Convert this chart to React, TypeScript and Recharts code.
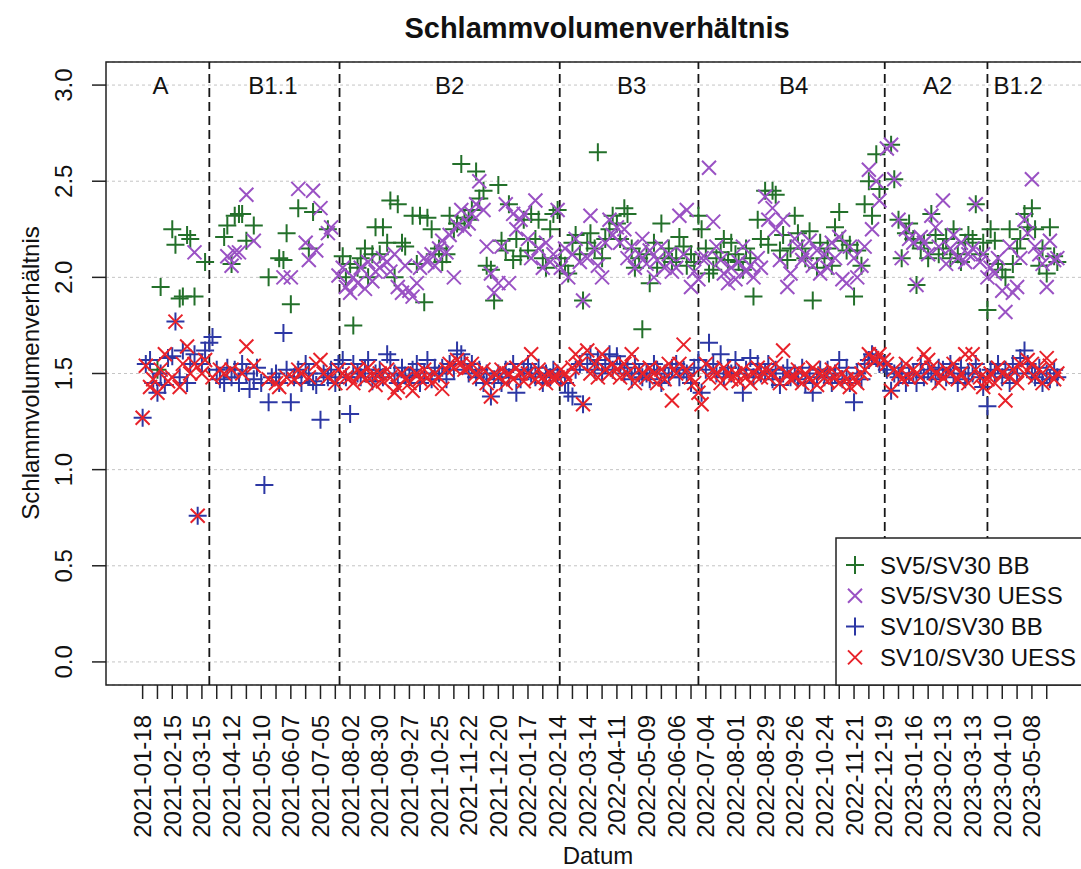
import React from 'react';
import {
  ScatterChart,
  Scatter,
  XAxis,
  YAxis,
  CartesianGrid,
  ReferenceLine,
  ReferenceArea,
} from 'recharts';

const FONT = '"Liberation Sans", Arial, Helvetica, sans-serif';
const START = Date.UTC(2021, 0, 18);

const GREEN = '#23702a';
const PURPLE = '#9a52c4';
const BLUE = '#2c37a4';
const RED = '#e8222a';

// labelled x ticks (every 4 weeks), minor ticks sit 2 weeks after each
const LABEL_DATES = [
  '2021-01-18', '2021-02-15', '2021-03-15', '2021-04-12', '2021-05-10', '2021-06-07',
  '2021-07-05', '2021-08-02', '2021-08-30', '2021-09-27', '2021-10-25', '2021-11-22',
  '2021-12-20', '2022-01-17', '2022-02-14', '2022-03-14', '2022-04-11', '2022-05-09',
  '2022-06-06', '2022-07-04', '2022-08-01', '2022-08-29', '2022-09-26', '2022-10-24',
  '2022-11-21', '2022-12-19', '2023-01-16', '2023-02-13', '2023-03-13', '2023-04-10',
  '2023-05-08',
];

const Y_TICKS = [0, 0.5, 1, 1.5, 2, 2.5, 3];

// phases: boundaries and label positions in days since 2021-01-18
const PHASE_NAMES = ['A', 'B1.1', 'B2', 'B3', 'B4', 'A2', 'B1.2'];
const PHASE_LABEL_DAYS = [17, 123, 290, 462, 615, 751, 827];
const PHASE_BOUNDS = [63, 186, 394, 525, 701, 798];

// sampling days (Mon/Thu), one row per 4-week block
const SAMPLE_DAYS = [
  [0, 3, 7, 10, 14, 17, 21, 24],
  [28, 31, 35, 38, 42, 45, 49, 52],
  [56, 59, 63, 66, 70, 73, 77, 80],
  [84, 87, 91, 94, 98, 101, 105, 108],
  [112, 115, 119, 122, 126, 129, 133, 136],
  [140, 143, 147, 150, 154, 157, 161, 164],
  [168, 171, 175, 178, 182, 185, 189, 192],
  [196, 199, 203, 206, 210, 213, 217, 220],
  [224, 227, 231, 234, 238, 241, 245, 248],
  [252, 255, 259, 262, 266, 269, 273, 276],
  [280, 283, 287, 290, 294, 297, 301, 304],
  [308, 311, 315, 318, 322, 325, 329, 332],
  [336, 339, 343, 346, 350, 353, 357, 360],
  [364, 367, 371, 374, 378, 381, 385, 388],
  [392, 395, 399, 402, 406, 409, 413, 416],
  [420, 423, 427, 430, 434, 437, 441, 444],
  [448, 451, 455, 458, 462, 465, 469, 472],
  [476, 479, 483, 486, 490, 493, 497, 500],
  [504, 507, 511, 514, 518, 521, 525, 528],
  [532, 535, 539, 542, 546, 549, 553, 556],
  [560, 563, 567, 570, 574, 577, 581, 584],
  [588, 591, 595, 598, 602, 605, 609, 612],
  [616, 619, 623, 626, 630, 633, 637, 640],
  [644, 647, 651, 654, 658, 661, 665, 668],
  [672, 675, 679, 682, 686, 689, 693, 696],
  [700, 703, 707, 710, 714, 717, 721, 724],
  [728, 731, 735, 738, 742, 745, 749, 752],
  [756, 759, 763, 766, 770, 773, 777, 780],
  [784, 787, 791, 794, 798, 801, 805, 808],
  [812, 815, 819, 822, 826, 829, 833, 836],
  [840, 843, 847, 850, 854, 857, 861, 864],
];

const SV5_BB = [
  [null, null, null, null, 1.52, 1.95, null, null],
  [2.25, 2.17, 1.89, 1.90, 2.22, 2.20, 1.90, null],
  [null, 2.08, null, null, null, null, 2.21, 2.27],
  [2.07, 2.32, 2.33, 2.33, 2.19, null, 2.27, null],
  [null, null, 2.00, null, null, 2.10, 2.09, 2.23],
  [1.86, null, 2.36, null, null, 2.15, 2.34, null],
  [null, null, 2.25, null, null, null, 2.11, 2.00],
  [2.07, 1.75, 2.05, 2.10, 2.15, 2.00, 2.12, 2.26],
  [2.12, 2.26, 2.18, 2.40, 2.00, 2.38, 2.18, 2.16],
  [null, 2.32, 2.07, 2.32, 1.87, 2.31, 2.25, 2.12],
  [2.15, 2.08, 2.12, 2.32, 2.25, 2.28, 2.59, 2.31],
  [2.30, 2.35, 2.55, 2.41, 2.45, 2.06, 2.04, 1.88],
  [2.48, 2.19, 2.14, 2.38, 2.09, 2.20, 2.11, 2.30],
  [2.14, 2.33, 2.20, 2.30, 2.10, 2.05, 2.25, 2.33],
  [2.35, 2.10, 2.06, 2.02, 2.18, 2.22, 2.12, 1.88],
  [2.18, 2.23, 2.15, 2.65, 2.10, 2.20, 2.25, 2.32],
  [2.28, 2.20, 2.36, 2.33, 2.15, 2.05, 2.10, 1.73],
  [2.12, 1.97, 2.18, 2.05, 2.28, 2.10, 2.15, 2.08],
  [2.10, 2.21, 2.16, 2.06, 2.12, 2.08, 2.32, 2.25],
  [2.15, 2.02, 2.04, 2.10, 2.13, 2.20, 2.09, 2.18],
  [2.12, 2.08, 2.04, 2.15, 2.10, 1.90, 2.30, 2.20],
  [2.45, 2.17, 2.45, 2.43, 2.14, 2.22, 2.09, 2.15],
  [2.32, 2.23, 2.15, 2.10, 2.24, 1.88, 2.05, 2.18],
  [2.10, 2.15, 2.06, 2.26, 2.34, 2.19, 2.14, 2.17],
  [1.90, 2.14, 2.06, 2.38, 2.50, 2.32, 2.64, 2.46],
  [null, null, 2.69, 2.51, 2.30, 2.10, 2.23, 2.28],
  [2.20, 1.96, 2.15, 2.18, 2.10, 2.33, 2.22, 2.12],
  [2.15, 2.20, 2.10, 2.25, 2.12, 2.08, 2.18, 2.22],
  [2.20, 2.38, 2.12, 2.18, 1.83, 2.25, 2.19, 2.07],
  [2.04, 2.00, 2.25, 2.07, 2.15, 2.20, 2.33, 2.26],
  [2.36, 2.25, 2.06, 2.15, 2.02, 2.26, 2.11, 2.08],
];

const SV5_UESS = [
  [null, null, null, null, null, null, null, null],
  [null, null, null, null, null, null, 2.13, null],
  [null, null, null, null, null, null, null, 2.11],
  [2.06, 2.13, 2.13, null, 2.43, null, 2.19, null],
  [null, null, null, null, null, null, 2.00, null],
  [2.00, null, 2.46, null, 2.18, 2.09, 2.45, 2.14],
  [2.36, null, 2.23, 2.26, null, 2.01, 2.05, 1.95],
  [1.92, 2.00, 1.97, 2.05, 1.94, 2.08, 1.98, 2.03],
  [2.05, 2.10, 2.08, 2.03, 2.12, 1.95, 1.92, 2.06],
  [1.93, 1.90, 1.97, 2.05, 2.10, 2.08, 2.12, 2.06],
  [2.15, 2.19, 2.13, 2.22, 2.00, 2.27, 2.35, 2.25],
  [2.28, 2.33, 2.38, 2.50, 2.35, 2.16, 2.02, 1.92],
  [1.97, 2.16, 2.38, 1.97, 2.33, 2.25, 2.30, 2.33],
  [2.20, 2.10, 2.40, 2.15, 2.05, 2.18, 2.08, 2.12],
  [2.35, 2.05, 2.15, 2.00, 2.12, 2.20, 2.08, 1.88],
  [2.10, 2.32, 2.15, 2.06, 2.00, 2.18, 2.30, 2.22],
  [2.26, 2.18, 2.25, 2.10, 2.16, 2.05, 2.12, 2.20],
  [2.07, 2.14, 2.00, 2.09, 2.16, 2.05, 2.12, 2.03],
  [2.05, 2.32, 2.12, 2.35, 1.95, 2.03, 1.99, 2.10],
  [2.10, 2.57, 2.29, 2.16, 2.09, 2.02, 1.97, 2.05],
  [1.99, 2.08, 2.16, 2.03, 2.06, 2.00, 2.10, 2.05],
  [2.42, 2.30, 2.36, 2.25, 2.09, 2.30, 1.95, 2.02],
  [2.20, 2.16, 2.09, 2.12, 2.19, 2.06, 2.14, 2.02],
  [2.12, 2.05, 2.18, 2.10, 2.21, 1.99, 1.97, 2.16],
  [2.10, 2.00, 2.06, 2.16, 2.56, 2.25, 2.50, 2.40],
  [null, 2.67, 2.69, 2.51, 2.30, 2.10, 2.25, 2.20],
  [2.18, 1.96, 2.21, 2.18, 2.12, 2.32, 2.26, 2.16],
  [2.40, 2.07, 2.15, 2.22, 2.10, 2.18, 2.08, 2.12],
  [2.15, 2.38, 2.08, 2.12, 2.00, 2.05, 2.02, 2.10],
  [1.93, 1.82, 2.16, 1.92, 1.95, 2.10, 2.30, 2.23],
  [2.51, 2.16, 2.12, 2.07, 1.95, 2.19, 2.09, 2.10],
];

const SV10_BB = [
  [1.27, 1.55, 1.57, 1.45, 1.40, 1.50, 1.44, 1.58],
  [1.59, 1.77, 1.48, 1.62, 1.45, 1.55, 1.60, 0.76],
  [1.55, 1.62, 1.66, 1.69, 1.52, 1.47, 1.45, 1.53],
  [1.48, 1.52, 1.45, 1.55, 1.50, 1.42, 1.47, 1.53],
  [1.45, 0.92, 1.35, 1.48, 1.50, 1.45, 1.71, 1.52],
  [1.35, 1.48, 1.52, 1.45, 1.55, 1.50, 1.46, 1.44],
  [1.26, 1.50, 1.48, 1.52, 1.45, 1.55, 1.57, 1.48],
  [1.29, 1.55, 1.50, 1.48, 1.52, 1.57, 1.46, 1.50],
  [1.52, 1.48, 1.60, 1.57, 1.50, 1.45, 1.53, 1.49],
  [1.48, 1.52, 1.55, 1.45, 1.50, 1.57, 1.47, 1.53],
  [1.50, 1.53, 1.47, 1.55, 1.52, 1.62, 1.60, 1.55],
  [1.50, 1.55, 1.48, 1.52, 1.45, 1.50, 1.38, 1.47],
  [1.50, 1.45, 1.52, 1.48, 1.55, 1.40, 1.47, 1.52],
  [1.55, 1.50, 1.48, 1.53, 1.45, 1.50, 1.48, 1.52],
  [1.50, 1.48, 1.45, 1.40, 1.38, 1.52, 1.55, 1.34],
  [1.55, 1.60, 1.52, 1.57, 1.50, 1.55, 1.60, 1.52],
  [1.59, 1.55, 1.50, 1.53, 1.47, 1.55, 1.50, 1.48],
  [1.50, 1.47, 1.55, 1.52, 1.45, 1.50, 1.48, 1.53],
  [1.55, 1.48, 1.52, 1.50, 1.45, 1.53, 1.57, 1.40],
  [1.52, 1.66, 1.55, 1.50, 1.60, 1.48, 1.53, 1.50],
  [1.57, 1.50, 1.40, 1.52, 1.58, 1.48, 1.55, 1.50],
  [1.50, 1.55, 1.47, 1.52, 1.44, 1.50, 1.53, 1.48],
  [1.50, 1.47, 1.53, 1.45, 1.50, 1.40, 1.48, 1.52],
  [1.48, 1.52, 1.45, 1.50, 1.57, 1.47, 1.53, 1.45],
  [1.35, 1.50, 1.47, 1.55, 1.57, 1.60, 1.58, 1.55],
  [1.55, 1.52, 1.41, 1.50, 1.48, 1.53, 1.45, 1.50],
  [1.50, 1.45, 1.55, 1.48, 1.52, 1.50, 1.47, 1.53],
  [1.52, 1.48, 1.55, 1.50, 1.45, 1.53, 1.47, 1.50],
  [1.50, 1.55, 1.48, 1.43, 1.33, 1.52, 1.50, 1.55],
  [1.48, 1.52, 1.45, 1.55, 1.50, 1.58, 1.62, 1.55],
  [1.50, 1.48, 1.53, 1.45, 1.50, 1.47, 1.52, 1.48],
];

const SV10_UESS = [
  [1.27, 1.54, 1.43, 1.47, 1.40, 1.52, 1.60, 1.46],
  [1.48, 1.77, 1.43, 1.55, 1.64, 1.50, 1.55, 0.76],
  [1.50, 1.57, null, 1.48, null, 1.52, 1.50, null],
  [1.52, null, null, 1.50, 1.64, null, 1.54, null],
  [null, null, 1.47, null, 1.45, 1.43, null, 1.48],
  [null, 1.47, 1.52, 1.50, null, 1.48, null, 1.55],
  [1.57, 1.50, 1.48, null, 1.45, 1.52, 1.50, 1.48],
  [1.48, 1.45, 1.52, 1.50, 1.47, 1.53, 1.49, 1.44],
  [1.50, 1.46, 1.52, 1.48, 1.40, 1.43, 1.50, 1.47],
  [1.45, 1.41, 1.50, 1.47, 1.52, 1.48, 1.45, 1.50],
  [1.48, 1.42, 1.52, 1.55, 1.53, 1.57, 1.55, 1.52],
  [1.53, 1.55, 1.50, 1.48, 1.52, 1.45, 1.38, 1.50],
  [1.48, 1.52, 1.45, 1.50, 1.47, 1.53, 1.50, 1.46],
  [1.50, 1.60, 1.47, 1.52, 1.48, 1.45, 1.50, 1.47],
  [1.48, 1.52, 1.50, 1.47, 1.53, 1.60, 1.55, 1.34],
  [1.62, 1.50, 1.55, 1.48, 1.60, 1.52, 1.50, 1.55],
  [1.52, 1.48, 1.55, 1.50, 1.60, 1.45, 1.52, 1.50],
  [1.48, 1.53, 1.50, 1.45, 1.52, 1.47, 1.55, 1.36],
  [1.50, 1.55, 1.65, 1.52, 1.48, 1.45, 1.40, 1.34],
  [1.55, 1.48, 1.52, 1.50, 1.45, 1.53, 1.50, 1.47],
  [1.50, 1.46, 1.52, 1.48, 1.45, 1.50, 1.53, 1.48],
  [1.52, 1.48, 1.50, 1.55, 1.45, 1.62, 1.50, 1.47],
  [1.48, 1.52, 1.45, 1.50, 1.47, 1.53, 1.44, 1.50],
  [1.50, 1.46, 1.52, 1.48, 1.45, 1.50, 1.47, 1.43],
  [1.48, 1.45, 1.50, 1.52, 1.60, 1.58, 1.57, 1.60],
  [1.57, 1.55, 1.41, 1.52, 1.50, 1.47, 1.55, 1.48],
  [1.52, 1.50, 1.48, 1.60, 1.57, 1.53, 1.50, 1.45],
  [1.48, 1.52, 1.50, 1.55, 1.47, 1.50, 1.60, 1.45],
  [1.60, 1.52, 1.48, 1.43, 1.47, 1.50, 1.45, 1.53],
  [1.50, 1.36, 1.48, 1.52, 1.45, 1.55, 1.50, 1.57],
  [1.55, 1.48, 1.52, 1.45, 1.58, 1.54, 1.47, 1.50],
];

const dayOf = (s: string) => {
  const [y, m, d] = s.split('-').map(Number);
  return Math.round((Date.UTC(y, m - 1, d) - START) / 86400000);
};

const LABEL_DAYS = LABEL_DATES.map(dayOf);
const TICK_DAYS = LABEL_DAYS.flatMap((d) => [d, d + 14]);

const toPoints = (rows: (number | null)[][]) =>
  rows.flatMap((row, k) =>
    row
      .map((v, i) => (v == null ? null : { x: SAMPLE_DAYS[k][i], y: v }))
      .filter((p): p is { x: number; y: number } => p !== null)
  );

const SERIES = [
  { name: 'SV5/SV30 BB', color: GREEN, mark: 'plus', rows: SV5_BB },
  { name: 'SV5/SV30 UESS', color: PURPLE, mark: 'cross', rows: SV5_UESS },
  { name: 'SV10/SV30 BB', color: BLUE, mark: 'plus', rows: SV10_BB },
  { name: 'SV10/SV30 UESS', color: RED, mark: 'cross', rows: SV10_UESS },
];

const PHASE_DATA = PHASE_NAMES.map((name, i) => ({ x: PHASE_LABEL_DAYS[i], y: 3, name }));

const Mark = ({ cx, cy, color, mark }: any) => {
  if (cx == null || cy == null) return null;
  const d =
    mark === 'plus'
      ? `M${cx - 9},${cy}H${cx + 9}M${cx},${cy - 9}V${cy + 9}`
      : `M${cx - 7},${cy - 7}L${cx + 7},${cy + 7}M${cx - 7},${cy + 7}L${cx + 7},${cy - 7}`;
  return <path d={d} stroke={color} strokeWidth={2} fill="none" />;
};

const XTick = ({ x, y, payload }: any) => {
  const idx = LABEL_DAYS.indexOf(payload.value);
  if (idx < 0) return <g />;
  const bx = x + 8.5;
  return (
    <text
      x={bx}
      y={y}
      transform={`rotate(-90 ${bx} ${y})`}
      textAnchor="end"
      fontSize={24}
      fontFamily={FONT}
      fill="#111"
    >
      {LABEL_DATES[idx]}
    </text>
  );
};

const YTick = ({ x, y, payload }: any) => (
  <text
    x={x}
    y={y}
    transform={`rotate(-90 ${x} ${y})`}
    textAnchor="middle"
    fontSize={24}
    fontFamily={FONT}
    fill="#111"
  >
    {Number(payload.value).toFixed(1)}
  </text>
);

const PhaseLabel = ({ cx, cy, payload }: any) => (
  <text x={cx} y={cy + 8.5} textAnchor="middle" fontSize={24} fontFamily={FONT} fill="#111">
    {payload.name}
  </text>
);

export default function App() {
  return (
    <div
      style={{
        position: 'absolute',
        left: 0,
        top: 0,
        width: 1081,
        height: 869,
        overflow: 'hidden',
        background: '#fff',
        fontFamily: FONT,
      }}
    >
      <ScatterChart width={1095} height={869} margin={{ top: 62, right: 0, bottom: 0, left: 0 }}>
        <CartesianGrid vertical={false} stroke="#c4c4c4" strokeDasharray="3 3" />
        <XAxis
          type="number"
          dataKey="x"
          domain={[-34.6, 899.6]}
          allowDataOverflow
          ticks={TICK_DAYS}
          interval={0}
          tick={<XTick />}
          tickSize={14}
          tickMargin={16}
          tickLine={{ stroke: '#222', strokeWidth: 1.5 }}
          axisLine={false}
          height={184}
        />
        <YAxis
          type="number"
          dataKey="y"
          domain={[-0.12, 3.12]}
          allowDataOverflow
          ticks={Y_TICKS}
          interval={0}
          tick={<YTick />}
          tickSize={14}
          tickMargin={20}
          tickLine={{ stroke: '#222', strokeWidth: 1.5 }}
          axisLine={false}
          width={106}
        />
        {SERIES.map((s) => (
          <Scatter
            key={s.name}
            name={s.name}
            data={toPoints(s.rows)}
            isAnimationActive={false}
            shape={(p: any) => <Mark cx={p.cx} cy={p.cy} color={s.color} mark={s.mark} />}
          />
        ))}
        {PHASE_BOUNDS.map((d) => (
          <ReferenceLine key={d} x={d} stroke="#161616" strokeWidth={1.8} strokeDasharray="9 5" />
        ))}
        <Scatter data={PHASE_DATA} isAnimationActive={false} shape={<PhaseLabel />} />
        <ReferenceArea
          x1={-34.6}
          x2={899.6}
          y1={-0.12}
          y2={3.12}
          fill="none"
          fillOpacity={0}
          stroke="#222"
          strokeWidth={1.5}
        />
      </ScatterChart>

      <svg
        width={1081}
        height={869}
        style={{ position: 'absolute', left: 0, top: 0, pointerEvents: 'none' }}
      >
        <text x={597} y={38} textAnchor="middle" fontSize={29} fontWeight="bold" fontFamily={FONT} fill="#111">
          Schlammvolumenverhältnis
        </text>
        <text
          x={39}
          y={373}
          transform="rotate(-90 39 373)"
          textAnchor="middle"
          fontSize={24}
          fontFamily={FONT}
          fill="#111"
        >
          Schlammvolumenverhältnis
        </text>
        <text x={598} y={864} textAnchor="middle" fontSize={24} fontFamily={FONT} fill="#111">
          Datum
        </text>
        <rect x={836} y={538} width={260} height={147} fill="#fff" stroke="#222" strokeWidth={1.5} />
        {SERIES.map((s, i) => {
          const cy = 565 + i * 30.8;
          return (
            <g key={s.name}>
              <Mark cx={855} cy={cy} color={s.color} mark={s.mark} />
              <text x={880} y={cy + 8.5} fontSize={24} fontFamily={FONT} fill="#111">
                {s.name}
              </text>
            </g>
          );
        })}
      </svg>
    </div>
  );
}
